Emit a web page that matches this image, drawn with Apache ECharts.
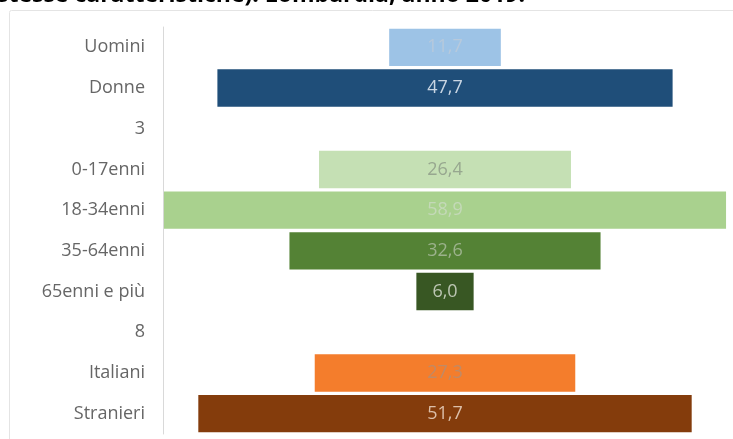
<!DOCTYPE html>
<html>
<head>
<meta charset="utf-8">
<script src="https://cdn.jsdelivr.net/npm/echarts@6/dist/echarts.min.js"></script>
<style>
  html, body { margin: 0; padding: 0; background: #ffffff; }
  #chart { width: 733px; height: 439px; }
</style>
</head>
<body>
<div id="chart"></div>
<script>
// Row labels (top to bottom); "3" and "8" are spacer rows without a bar
const categories = ['Uomini', 'Donne', '3', '0-17enni', '18-34enni', '35-64enni', '65enni e più', '8', 'Italiani', 'Stranieri'];
// Percentages per row
const values = [11.7, 47.7, null, 26.4, 58.9, 32.6, 6.0, null, 27.3, 51.7];
// Bar fill colours per row
const barColors = ['#9dc3e6', '#1f4e79', null, '#c5e0b4', '#a9d18e', '#548235', '#385723', null, '#f47d2c', '#843c0c'];
// Value label colours per row
const labelColors = ['#b7c9dc', '#c9d6e3', null, '#97a78f', '#c4d9b8', '#9cb28c', '#bcc6b3', null, '#c08a66', '#dcbfa9'];

// Width of the value axis; each bar is centred within it
const axisMax = 59.1;

const offsets = values.map(v => v == null ? null : (axisMax - v) / 2);
const barData = values.map((v, i) => v == null ? null : {
  value: v,
  itemStyle: { color: barColors[i] },
  label: { color: labelColors[i] }
});

const chart = echarts.init(document.getElementById('chart'), null, { renderer: 'canvas' });
chart.setOption({
  backgroundColor: '#ffffff',
  animation: false,
  graphic: [
    {
      type: 'rect',
      shape: { x: 9.5, y: 10.5, width: 740, height: 440, r: 2 },
      style: { fill: 'none', stroke: '#e4e4e4', lineWidth: 1 },
      silent: true
    },
    {
      type: 'text',
      left: -3,
      top: -16,
      style: {
        text: 'stesse caratteristiche). Lombardia, anno 2019.',
        font: 'bold 23px "Open Sans", sans-serif',
        fill: '#000000'
      }
    }
  ],
  grid: { left: 163, right: 6, top: 27, bottom: 5, containLabel: false },
  xAxis: {
    type: 'value',
    min: 0,
    max: axisMax,
    show: false
  },
  yAxis: {
    type: 'category',
    data: categories,
    inverse: true,
    axisLine: { show: true, lineStyle: { color: '#d9d9d9', width: 1 } },
    axisTick: { show: false },
    axisLabel: {
      color: '#666666',
      fontSize: 18,
      fontFamily: '"Open Sans", sans-serif',
      margin: 18
    },
    splitLine: { show: false }
  },
  series: [
    {
      name: 'offset',
      type: 'bar',
      stack: 'total',
      data: offsets,
      itemStyle: { color: 'transparent' },
      barCategoryGap: '8%',
      silent: true
    },
    {
      name: 'valore',
      type: 'bar',
      stack: 'total',
      data: barData,
      barCategoryGap: '8%',
      label: {
        show: true,
        position: 'inside',
        fontSize: 18,
        fontFamily: '"Open Sans", sans-serif',
        formatter: p => p.value.toFixed(1).replace('.', ',')
      }
    }
  ]
});
</script>
</body>
</html>
